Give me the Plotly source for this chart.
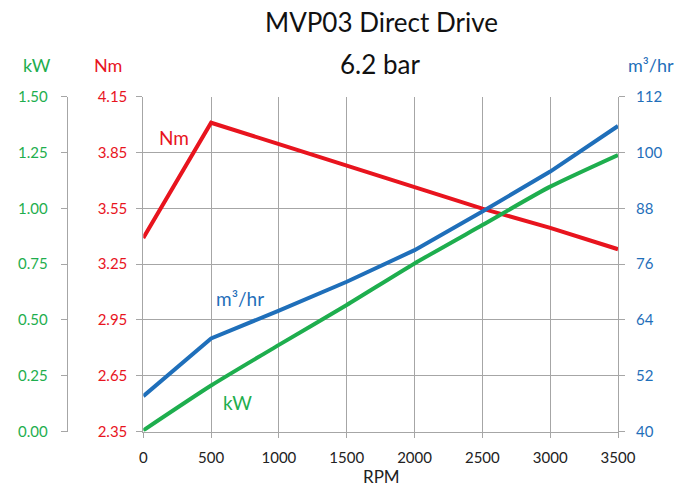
import plotly.graph_objects as go

rpm = [0, 500, 1000, 1500, 2000, 2500, 3000, 3500]
nm = [3.39, 4.01, 3.895, 3.78, 3.665, 3.548, 3.445, 3.33]
flow = [47.6, 60.0, 66.0, 72.2, 79.0, 87.3, 95.9, 105.7]
kw = [0.005, 0.206, 0.388, 0.567, 0.753, 0.925, 1.097, 1.239]

nm_ticks = [2.35, 2.65, 2.95, 3.25, 3.55, 3.85, 4.15]
kw_ticks = [0.0, 0.25, 0.5, 0.75, 1.0, 1.25, 1.5]
flow_ticks = [40, 52, 64, 76, 88, 100, 112]
rpm_ticks = [0, 500, 1000, 1500, 2000, 2500, 3000, 3500]

RED = "#E8141E"
BLUE = "#1F6FBA"
GREEN = "#1EAE4E"
GRID = "#A6A6A6"
FONT = "Lato"

W, H = 692, 489
x0, x1 = 143.3 / W, 618.0 / W
y0, y1 = 1 - 431.5 / H, 1 - 96.7 / H

fig = go.Figure()
fig.add_trace(go.Scatter(x=rpm, y=nm, mode="lines", line=dict(color=RED, width=4), yaxis="y"))
fig.add_trace(go.Scatter(x=rpm, y=flow, mode="lines", line=dict(color=BLUE, width=4), yaxis="y3"))
fig.add_trace(go.Scatter(x=rpm, y=kw, mode="lines", line=dict(color=GREEN, width=4, shape="spline", smoothing=0.6), yaxis="y2"))

fig.update_layout(
    width=W, height=H,
    margin=dict(l=0, r=0, t=0, b=0),
    paper_bgcolor="white", plot_bgcolor="white",
    showlegend=False,
    font=dict(family=FONT),
    xaxis=dict(
        domain=[x0, x1], range=[0, 3500], tickvals=rpm_ticks,
        showgrid=True, gridcolor=GRID, gridwidth=1,
        showline=True, linecolor=GRID, mirror=False,
        ticks="outside", ticklen=5, tickcolor=GRID,
        tickfont=dict(family=FONT, size=15, color="#222222"),
        ticklabelstandoff=7,
        zeroline=False, automargin=False,
    ),
    yaxis=dict(
        domain=[y0, y1], range=[2.35, 4.15], tickvals=nm_ticks,
        ticktext=[f"{v:.2f}" for v in nm_ticks],
        showgrid=True, gridcolor=GRID, gridwidth=1,
        showline=True, linecolor=GRID,
        ticks="outside", ticklen=6, tickcolor=GRID,
        tickfont=dict(family=FONT, size=15, color=RED),
        ticklabelstandoff=6,
        zeroline=False, automargin=False,
    ),
    yaxis2=dict(
        overlaying="y", anchor="free", position=66.7 / W, side="left",
        range=[0, 1.5], tickvals=kw_ticks,
        ticktext=[f"{v:.2f}" for v in kw_ticks],
        showgrid=False, showline=True, linecolor=GRID,
        ticks="outside", ticklen=6, tickcolor=GRID,
        tickfont=dict(family=FONT, size=15, color=GREEN),
        ticklabelstandoff=10,
        zeroline=False, automargin=False,
    ),
    yaxis3=dict(
        overlaying="y", anchor="x", side="right",
        range=[40, 112], tickvals=flow_ticks,
        showgrid=False, showline=True, linecolor=GRID,
        ticks="outside", ticklen=6, tickcolor=GRID,
        tickfont=dict(family=FONT, size=15, color=BLUE),
        ticklabelstandoff=8,
        zeroline=False, automargin=False,
    ),
)

ann = [
    dict(text="MVP03 Direct Drive", x=381, y=22, size=26, color="#111111"),
    dict(text="6.2 bar", x=380, y=64, size=26, color="#111111"),
    dict(text="kW", x=37, y=65, size=18, color=GREEN),
    dict(text="Nm", x=108, y=65, size=18, color=RED),
    dict(text="m³/hr", x=651, y=65, size=18, color=BLUE),
    dict(text="RPM", x=381, y=476, size=17, color="#222222"),
    dict(text="Nm", x=174, y=138, size=19, color=RED),
    dict(text="m³/hr", x=240, y=298, size=19, color=BLUE),
    dict(text="kW", x=237, y=402, size=19, color=GREEN),
]
for a in ann:
    fig.add_annotation(
        text=a["text"], x=a["x"] / W, y=1 - a["y"] / H, xref="paper", yref="paper",
        xanchor="center", yanchor="middle", showarrow=False,
        font=dict(family=FONT, size=a["size"], color=a["color"]),
    )

fig.write_html(
    "out.html",
    config={"displayModeBar": False},
    post_script="document.body.style.margin='0';document.body.style.overflow='hidden';window.dispatchEvent(new Event('resize'));",
)
